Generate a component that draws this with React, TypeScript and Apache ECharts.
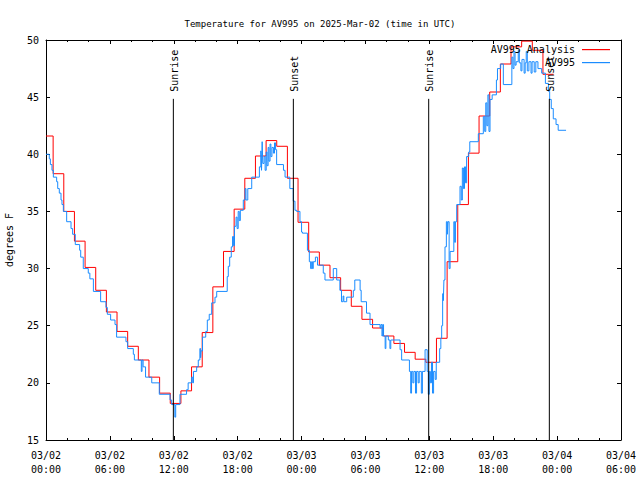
import { useEffect, useRef } from "react";
import * as echarts from "echarts";

const titleText = "Temperature for AV995 on 2025-Mar-02 (time in UTC)";
const yAxisName = "degrees F";
const analysisName = "AV995 Analysis";
const obsName = "AV995";

// Hourly analysis values (°F); each value holds for one hour, changing at about xx:40
const analysisStepHours = [
  0, 0.67, 1.67, 2.67, 3.67, 4.67, 5.67, 6.67, 7.67, 8.67, 9.67, 10.67, 11.67, 12.67, 13.67, 14.67,
  15.67, 16.67, 17.67, 18.67, 19.67, 20.67, 21.67, 22.67, 23.67, 24.67, 25.67, 26.67, 27.67, 28.67,
  29.67, 30.67, 31.67, 32.67, 33.67, 34.67, 35.67, 36.67, 37.67, 38.67, 39.67, 40.67, 41.67, 42.67,
  43.67, 44.67, 45.67, 46.67, 47.67,
];
const analysisValues = [
  41.6, 38.3, 35.0, 32.4, 30.1, 28.1, 26.2, 24.5, 23.2, 22.0, 20.5, 19.1, 18.2, 19.3, 21.4, 24.4,
  28.4, 31.5, 35.2, 37.9, 39.85, 41.2, 40.7, 37.9, 34.05, 31.45, 30.3, 29.2, 28.1, 26.7, 25.56, 24.8,
  24.1, 23.45, 22.67, 22.07, 21.8, 23.9, 30.6, 35.6, 40.1, 43.35, 45.45, 47.9, 49.4, 49.9, 49.1, 47.0,
  47.0,
];

// Observations: [hour since 03/02 00:00 UTC, °F]
const observations: [number, number][] = [
  [0.0, 40.0], [0.31, 39.6], [0.41, 39.1], [0.56, 38.6], [0.69, 38.0], [1.0, 37.6], [1.1, 37.0],
  [1.25, 36.6], [1.41, 36.0], [1.5, 35.6], [1.63, 35.0], [1.94, 34.1], [2.35, 33.5], [2.5, 33.0],
  [2.75, 32.1], [3.16, 31.6], [3.26, 31.0], [3.5, 30.0], [3.97, 29.6], [4.12, 29.1], [4.45, 28.0],
  [5.13, 27.1], [5.63, 26.6], [5.76, 26.0], [6.07, 25.5], [6.48, 25.1], [6.63, 24.0], [7.51, 23.6],
  [7.67, 23.0], [8.2, 22.5], [8.3, 22.0], [8.95, 21.0], [9.02, 22.0], [9.12, 21.4], [9.35, 20.5],
  [9.93, 20.0], [10.64, 19.0], [11.65, 18.5], [11.8, 18.1], [12.1, 17.0], [12.18, 18.1],
  [12.58, 19.0], [13.2, 19.4], [13.35, 20.0], [13.68, 20.5], [13.78, 20.0], [13.85, 21.0],
  [14.15, 21.4], [14.3, 22.0], [14.45, 23.0], [14.52, 22.2], [14.56, 22.8], [14.7, 24.0],
  [15.0, 24.5], [15.15, 25.5], [15.33, 26.0], [15.56, 27.0], [15.87, 27.5], [16.03, 28.0],
  [17.02, 29.3], [17.12, 30.2], [17.25, 31.0], [17.4, 31.9], [17.52, 32.8], [17.62, 32.0],
  [17.7, 33.7], [17.85, 34.5], [17.95, 33.5], [18.05, 35.0], [18.15, 34.2], [18.25, 35.1],
  [18.53, 36.0], [18.7, 37.0], [18.78, 36.0], [18.95, 37.0], [19.32, 38.0], [20.04, 38.9],
  [20.18, 40.3], [20.24, 38.6], [20.3, 41.1], [20.36, 39.2], [20.48, 39.8], [20.58, 38.6],
  [20.68, 40.2], [20.76, 39.0], [20.86, 40.6], [20.94, 39.4], [21.04, 40.9], [21.12, 39.8],
  [21.22, 40.6], [21.36, 40.1], [21.46, 41.0], [21.56, 40.4], [21.66, 39.1], [22.3, 38.6],
  [22.45, 38.0], [22.9, 37.0], [23.22, 35.9], [23.38, 35.1], [23.54, 35.0], [23.85, 34.1],
  [24.0, 33.2], [24.08, 33.1], [24.55, 31.6], [24.73, 30.6], [24.85, 30.0], [24.95, 30.6],
  [25.02, 30.0], [25.1, 30.6], [25.3, 31.0], [25.5, 30.3], [26.04, 29.6], [26.2, 29.0],
  [26.98, 30.0], [27.3, 29.0], [27.6, 28.1], [27.75, 27.1], [27.9, 27.6], [27.97, 27.1],
  [28.24, 27.5], [28.86, 28.1], [29.0, 29.0], [29.5, 28.1], [29.6, 27.1], [30.1, 26.1],
  [30.43, 25.1], [31.37, 24.8], [31.45, 25.1], [31.55, 24.1], [31.62, 25.1], [31.7, 24.1],
  [31.85, 23.0], [31.92, 24.1], [32.15, 23.75], [32.3, 23.0], [32.38, 23.75], [33.25, 22.9],
  [33.4, 22.0], [34.13, 21.0], [34.25, 19.1], [34.33, 21.0], [34.45, 20.0], [34.55, 21.0],
  [34.7, 19.1], [34.8, 21.0], [34.95, 20.0], [35.05, 21.0], [35.25, 19.1], [35.35, 21.0],
  [35.6, 22.9], [35.8, 21.0], [35.9, 19.0], [36.0, 21.0], [36.1, 20.0], [36.2, 21.8],
  [36.3, 19.1], [36.4, 21.0], [36.55, 20.3], [36.65, 21.8], [36.97, 23.0], [37.08, 23.9],
  [37.16, 25.0], [37.25, 27.8], [37.32, 27.2], [37.37, 29.0], [37.47, 31.9], [37.6, 34.1],
  [37.69, 33.0], [37.75, 34.1], [37.86, 30.0], [37.95, 31.5], [38.3, 34.1], [38.38, 32.3],
  [38.45, 34.1], [38.57, 35.6], [38.88, 37.2], [39.0, 36.0], [39.1, 38.8], [39.2, 37.0],
  [39.3, 38.9], [39.4, 37.5], [39.5, 39.8], [39.7, 40.2], [39.8, 41.1], [40.6, 41.8],
  [41.07, 43.3], [41.2, 42.0], [41.3, 44.5], [41.4, 42.5], [41.5, 45.2], [41.6, 42.0],
  [41.7, 44.8], [41.9, 45.2], [42.3, 46.5], [42.4, 47.5], [42.7, 47.9], [42.95, 46.1],
  [43.75, 48.5], [43.85, 47.5], [43.95, 49.0], [44.05, 47.8], [44.15, 48.1], [44.35, 49.1],
  [44.45, 48.0], [44.6, 47.3], [44.7, 48.3], [44.9, 47.1], [45.0, 48.0], [45.1, 49.0],
  [45.2, 47.3], [45.35, 48.1], [45.55, 47.1], [45.65, 48.1], [45.85, 47.2], [46.0, 48.1],
  [46.2, 47.5], [46.55, 47.1], [46.9, 46.2], [47.2, 45.5], [47.3, 44.8], [47.45, 44.0],
  [47.64, 43.1], [47.9, 42.6], [48.1, 42.1], [48.84, 42.1],
];

// Sun events (hour since 03/02 00:00 UTC)
const sunLabels = ["Sunrise", "Sunset", "Sunrise", "Sunset"];
const sunHours = [11.96, 23.23, 35.94, 47.27];
const sunLineRange = [15, 44.85];

const xTickHours = { min: 0, max: 54, interval: 6 };
const yTicks = { min: 15, max: 50, interval: 5 };
const dayLabels = ["03/02", "03/03", "03/04"];

const MONO = '"DejaVu Sans Mono", "Liberation Mono", monospace';
const RED = "#ff0000";
const BLUE = "#1a8cff";

function fmtX(v: number) {
  const d = Math.floor(v / 24);
  const h = v - d * 24;
  return `${dayLabels[d]}\n${String(h).padStart(2, "0")}:00`;
}

export default function App() {
  const ref = useRef<HTMLDivElement>(null);
  useEffect(() => {
    const chart = echarts.init(ref.current!, null, { renderer: "svg" });
    const axisLine = { show: true, onZero: false, lineStyle: { color: "#000", width: 1 } };
    const tick = { show: true, inside: true, length: 4, lineStyle: { color: "#000", width: 1 } };
    const minor = { show: true, splitNumber: 3, length: 2, lineStyle: { color: "#000", width: 1 } };
    const labelStyle = { color: "#000", fontFamily: MONO, fontSize: 10 };

    const redData = analysisStepHours.map((h, i) => [h, analysisValues[i]]);
    const sunSeries = sunHours.map((h, i) => ({
      type: "line",
      name: sunLabels[i] + i,
      data: [
        [h, sunLineRange[0]],
        [h, sunLineRange[1]],
      ],
      showSymbol: false,
      silent: true,
      lineStyle: { color: "#000", width: 1 },
      z: 5,
    }));

    chart.setOption({
      animation: false,
      backgroundColor: "#fff",
      title: {
        text: titleText,
        left: "center",
        top: 14,
        textStyle: { fontFamily: MONO, fontSize: 9, fontWeight: "normal", color: "#000" },
      },
      grid: { left: 46, right: 19, top: 40, bottom: 40, containLabel: false, outerBoundsMode: "none" },
      xAxis: [
        {
          type: "value",
          ...xTickHours,
          position: "bottom",
          axisLine,
          axisTick: tick,
          minorTick: minor,
          splitLine: { show: false },
          axisLabel: { ...labelStyle, formatter: fmtX, margin: 8, lineHeight: 14 },
        },
        {
          type: "value",
          ...xTickHours,
          position: "top",
          axisLine,
          axisTick: tick,
          minorTick: minor,
          splitLine: { show: false },
          axisLabel: { show: false },
        },
      ],
      yAxis: [
        {
          type: "value",
          ...yTicks,
          position: "left",
          axisLine,
          axisTick: tick,
          splitLine: { show: false },
          axisLabel: { ...labelStyle, margin: 7 },
          name: yAxisName,
          nameLocation: "middle",
          nameRotate: 90,
          nameGap: 32,
          nameTextStyle: { ...labelStyle },
        },
        {
          type: "value",
          ...yTicks,
          position: "right",
          axisLine,
          axisTick: tick,
          splitLine: { show: false },
          axisLabel: { show: false },
        },
      ],
      series: [
        {
          type: "line",
          name: analysisName,
          step: "end",
          data: redData,
          showSymbol: false,
          silent: true,
          lineStyle: { color: RED, width: 1 },
          itemStyle: { color: RED },
          z: 2,
        },
        {
          type: "line",
          name: obsName,
          step: "end",
          data: observations,
          showSymbol: false,
          silent: true,
          lineStyle: { color: BLUE, width: 1 },
          itemStyle: { color: BLUE },
          z: 3,
        },
        ...sunSeries,
      ],
    });

    const sunTexts = sunHours.map((h, i) => {
      const p = chart.convertToPixel({ xAxisIndex: 0, yAxisIndex: 0 }, [h, sunLineRange[1]]) as number[];
      return {
        type: "text",
        x: p[0] + 1,
        y: p[1] - 7,
        rotation: Math.PI / 2,
        z: 10,
        style: {
          text: sunLabels[i],
          font: `10px ${MONO}`,
          fill: "#000",
          align: "left",
          verticalAlign: "middle",
        },
      };
    });

    const legendItems = [
      { text: analysisName, color: RED, y: 49 },
      { text: obsName, color: BLUE, y: 62 },
    ];
    const legendGraphics: any[] = [];
    legendItems.forEach((it) => {
      legendGraphics.push({
        type: "text",
        x: 575,
        y: it.y + 0.5,
        z: 10,
        style: { text: it.text, font: `10px ${MONO}`, fill: "#000", align: "right", verticalAlign: "middle" },
      });
      legendGraphics.push({
        type: "rect",
        z: 10,
        shape: { x: 582, y: it.y, width: 28, height: 1.2 },
        style: { fill: it.color, stroke: "none" },
      });
    });

    chart.setOption({ graphic: [...sunTexts, ...legendGraphics] });
    return () => chart.dispose();
  }, []);
  return <div ref={ref} style={{ position: "fixed", left: 0, top: 0, width: 640, height: 480 }} />;
}
